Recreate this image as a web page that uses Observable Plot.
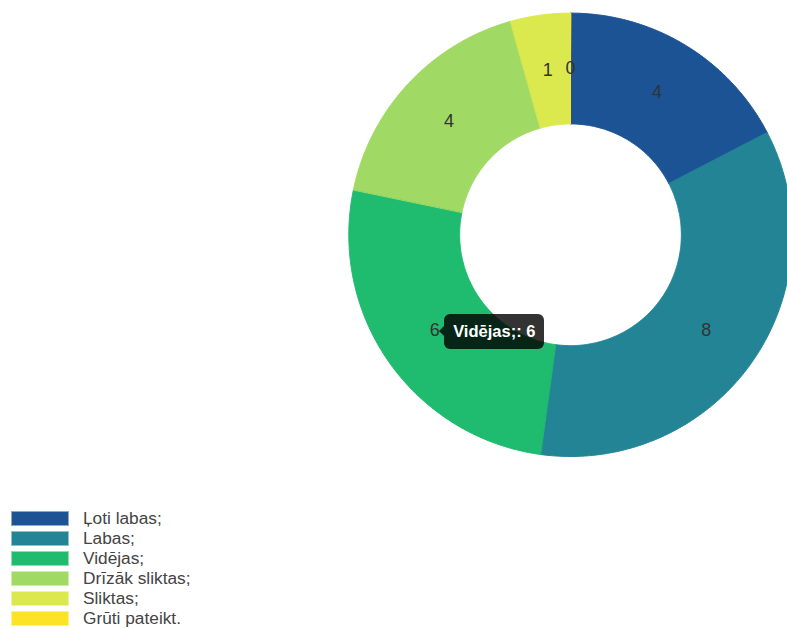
<!DOCTYPE html>
<html>
<head>
<meta charset="utf-8">
<script src="https://cdn.jsdelivr.net/npm/d3@7"></script>
<script src="https://cdn.jsdelivr.net/npm/@observablehq/plot@0.6"></script>
<style>
  html, body { margin: 0; padding: 0; background: #fff; }
  body { width: 787px; height: 628px; overflow: hidden; font-family: "Liberation Sans", Arial, sans-serif; }
  #wrap { position: relative; width: 787px; }
  #wrap svg { display: block; }
  .tip { position: absolute; box-sizing: border-box; height: 35px; padding: 0 9px; background: rgba(0,0,0,0.8);
         color: #fff; font: bold 16.5px "Liberation Sans", Arial, sans-serif; line-height: 35px; border-radius: 6px; white-space: nowrap; }
  .tip::before { content: ""; position: absolute; left: -5px; top: 12px; border-style: solid; border-width: 5px 5px 5px 0;
         border-color: transparent rgba(0,0,0,0.8) transparent transparent; }
  .legend { margin-top: 11px; }
  .row { display: flex; height: 20px; }
  .sw { width: 58px; height: 15px; margin-left: 11px; box-sizing: border-box; border: 1px solid rgba(255,255,255,0.5); }
  .lab { margin-left: 14px; font-size: 17.3px; line-height: 20px; color: #444; margin-top: -3px; }
</style>
</head>
<body>
<div id="wrap"></div>
<script>
const categories = ["Ļoti labas;", "Labas;", "Vidējas;", "Drīzāk sliktas;", "Sliktas;", "Grūti pateikt."];
const values = [4, 8, 6, 4, 1, 0];
const colors = ["#1b5394", "#238496", "#1fbb6f", "#a0da64", "#dbe94f", "#fde325"];
const highlighted = "Vidējas;";

const total = d3.sum(values);
const inner = 0.5;
let acc = 0;
const slices = categories.map((c, i) => {
  const a0 = acc / total * 2 * Math.PI;
  acc += values[i];
  const a1 = acc / total * 2 * Math.PI;
  return {cat: c, value: values[i], a0, a1};
});
const poly = [];
for (const s of slices) {
  const n = Math.max(1, Math.ceil((s.a1 - s.a0) / (Math.PI / 360)));
  for (let k = 0; k <= n; k++) {
    const a = s.a0 + (s.a1 - s.a0) * k / n;
    poly.push({cat: s.cat, x: Math.sin(a), y: Math.cos(a)});
  }
  for (let k = n; k >= 0; k--) {
    const a = s.a0 + (s.a1 - s.a0) * k / n;
    poly.push({cat: s.cat, x: inner * Math.sin(a), y: inner * Math.cos(a)});
  }
}
const labels = slices.map(s => {
  const a = (s.a0 + s.a1) / 2, r = (1 + inner) / 2;
  return {...s, x: r * Math.sin(a), y: r * Math.cos(a)};
});

const plot = Plot.plot({
  width: 787,
  height: 500,
  margin: 0,
  x: {domain: [-1, 1], range: [348.3, 791.7], axis: null},
  y: {domain: [-1, 1], range: [456, 12.6], axis: null},
  color: {domain: categories, range: colors},
  style: {background: "#fff", overflow: "hidden", fontFamily: "'Liberation Sans', Arial, sans-serif"},
  marks: [
    Plot.line(poly, {x: "x", y: "y", z: "cat", fill: "cat", stroke: "cat", strokeWidth: 1, curve: "linear-closed"}),
    Plot.text(labels, {x: "x", y: "y", text: d => String(d.value), fill: "#333", fontSize: 18})
  ]
});
const wrap = document.getElementById("wrap");
wrap.appendChild(plot);

const sx = plot.scale("x"), sy = plot.scale("y");
const h = labels.find(d => d.cat === highlighted);
const px = sx.apply(h.x), py = sy.apply(h.y);
const tip = document.createElement("div");
tip.className = "tip";
tip.textContent = `${h.cat}: ${h.value}`;
tip.style.left = (px + 10) + "px";
tip.style.top = (py - 16.5) + "px";
wrap.appendChild(tip);

const legend = document.createElement("div");
legend.className = "legend";
categories.forEach((c, i) => {
  const row = document.createElement("div");
  row.className = "row";
  const sw = document.createElement("div");
  sw.className = "sw";
  sw.style.background = colors[i];
  const lab = document.createElement("div");
  lab.className = "lab";
  lab.textContent = c;
  row.appendChild(sw);
  row.appendChild(lab);
  legend.appendChild(row);
});
wrap.appendChild(legend);
</script>
</body>
</html>
